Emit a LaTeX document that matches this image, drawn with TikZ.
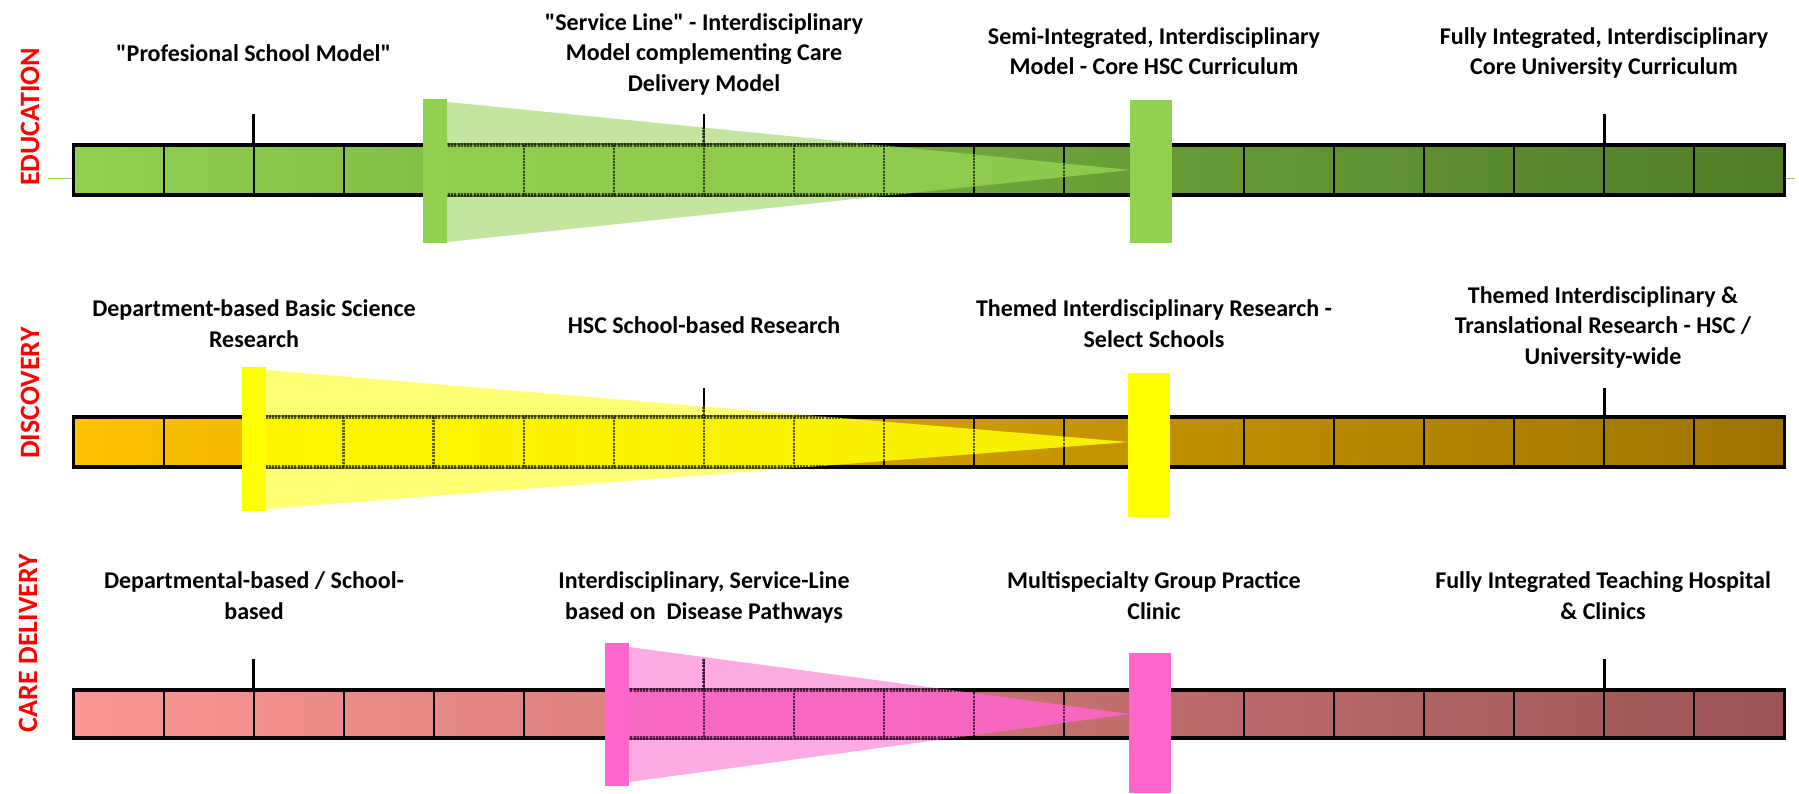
\documentclass[tikz,border=0pt]{standalone}
\usepackage{fontspec}
\setmainfont{Carlito}[Ligatures=TeXOff]
\usetikzlibrary{calc}
\definecolor{edL}{RGB}{146,208,80}
\definecolor{edR}{RGB}{80,125,40}
\definecolor{edRect}{RGB}{146,208,80}
\definecolor{dsL}{RGB}{255,194,0}
\definecolor{dsR}{RGB}{158,116,0}
\definecolor{dsRect}{RGB}{255,255,0}
\definecolor{cdL}{RGB}{250,150,148}
\definecolor{cdR}{RGB}{156,84,84}
\definecolor{cdRect}{RGB}{255,102,204}
\definecolor{rowred}{RGB}{255,0,0}
% #1 bar top, #2 bar bottom, #3 tick top, #4 tick list, #5 colour, #6 cone path
\newcommand\mycone[6]{%
  \begin{scope}
    \clip #6;
    \fill[#5, fill opacity=0.55] (0,0) rectangle (1799,793);
    \fill[#5, fill opacity=0.7] (73.5,#1) rectangle (1784.5,#2);
    \draw[seen] (73.5,#1) -- (1784.5,#1) (73.5,#2) -- (1784.5,#2);
    \foreach \k in {1,...,18} \draw[seen, line width=2.5pt] ({73.5+90.05*\k},#1) -- ({73.5+90.05*\k},#2);
    \foreach \k in {#4} \draw[seen, line width=3pt] ({73.5+90.05*\k},#3) -- ({73.5+90.05*\k},#1);
  \end{scope}}
\begin{document}
\begin{tikzpicture}[x=1pt,y=-1pt,
  lab/.style={font=\fontsize{24}{30.5}\selectfont\bfseries, align=center, anchor=base, inner sep=0pt},
  rowlab/.style={font=\fontsize{28}{30}\selectfont\bfseries, text=rowred, rotate=90, inner sep=0pt},
  divline/.style={line width=2pt},
  tickline/.style={line width=2.5pt},
  barframe/.style={draw=black, line width=3.5pt},
  seen/.style={draw=black, draw opacity=0.6, line width=3.5pt, dash pattern=on 2pt off 1.2pt},
]
\useasboundingbox (0,0) rectangle (1799,793);

% ---------- EDUCATION ----------
\draw[edL, line width=0.8pt] (48,178) -- (1795,178);
\shade[left color=edL, right color=edR] (73.5,145) rectangle (1784.5,195);
\foreach \k in {1,...,18} \draw[divline] ({73.5+90.05*\k},145) -- ({73.5+90.05*\k},195);
\draw[barframe] (73.5,145) rectangle (1784.5,195);
\foreach \k in {2,7,17} \draw[tickline] ({73.5+90.05*\k},114) -- ({73.5+90.05*\k},145);
\mycone{145}{195}{114}{2,7,17}{edRect}{(447,102) -- (1130,170) -- (447,242) -- cycle}
\fill[edRect] (423,99) rectangle (447,243);
\fill[edRect] (1130,100) rectangle (1172,243);

% ---------- DISCOVERY ----------
\shade[left color=dsL, right color=dsR] (73.5,417) rectangle (1784.5,467);
\foreach \k in {1,...,18} \draw[divline] ({73.5+90.05*\k},417) -- ({73.5+90.05*\k},467);
\draw[barframe] (73.5,417) rectangle (1784.5,467);
\foreach \k in {7,17} \draw[tickline] ({73.5+90.05*\k},388) -- ({73.5+90.05*\k},417);
\mycone{417}{467}{388}{7,17}{dsRect}{(266,370) -- (1128,442) -- (266,509) -- cycle}
\fill[dsRect] (242,367) rectangle (266,511);
\fill[dsRect] (1128,373) rectangle (1170,517);

% ---------- CARE DELIVERY ----------
\shade[left color=cdL, right color=cdR] (73.5,690) rectangle (1784.5,738);
\foreach \k in {1,...,18} \draw[divline] ({73.5+90.05*\k},690) -- ({73.5+90.05*\k},738);
\draw[barframe] (73.5,690) rectangle (1784.5,738);
\foreach \k in {2,7,17} \draw[tickline] ({73.5+90.05*\k},659) -- ({73.5+90.05*\k},690);
\mycone{690}{738}{659}{2,7,17}{cdRect}{(629,647) -- (1129,714) -- (629,782) -- cycle}
\fill[cdRect] (605,643) rectangle (629,786);
\fill[cdRect] (1129,653) rectangle (1171,793);

% ---------- row labels ----------
\node[rowlab] (rE) at (30,117) {EDUCATION};
\node[rowlab] (rD) at (30,393) {DISCOVERY};
\node[rowlab] (rC) at (28,643) {CARE DELIVERY};

% ---------- stage labels (anchored at the baseline of the last line) ----------
\node[lab] (e1) at (253.6,61) {"Profesional School Model"};
\node[lab] (e2) at (704,91) {"Service Line" - Interdisciplinary\\Model complementing Care\\Delivery Model};
\node[lab] (e3) at (1154,74.5) {Semi-Integrated, Interdisciplinary\\Model - Core HSC Curriculum};
\node[lab] (e4) at (1604,74.5) {Fully Integrated, Interdisciplinary\\Core University Curriculum};

\node[lab] (d1) at (254,347) {Department-based Basic Science\\Research};
\node[lab] (d2) at (704,333) {HSC School-based Research};
\node[lab] (d3) at (1154,347) {Themed Interdisciplinary Research -\\Select Schools};
\node[lab] (d4) at (1603,364) {Themed Interdisciplinary \&\\Translational Research - HSC /\\University-wide};

\node[lab] (c1) at (254,619) {Departmental-based / School-\\based};
\node[lab] (c2) at (704,619) {Interdisciplinary, Service-Line\\based on\ \ Disease Pathways};
\node[lab] (c3) at (1154,619) {Multispecialty Group Practice\\Clinic};
\node[lab] (c4) at (1603,619) {Fully Integrated Teaching Hospital\\\& Clinics};
\end{tikzpicture}
\end{document}
